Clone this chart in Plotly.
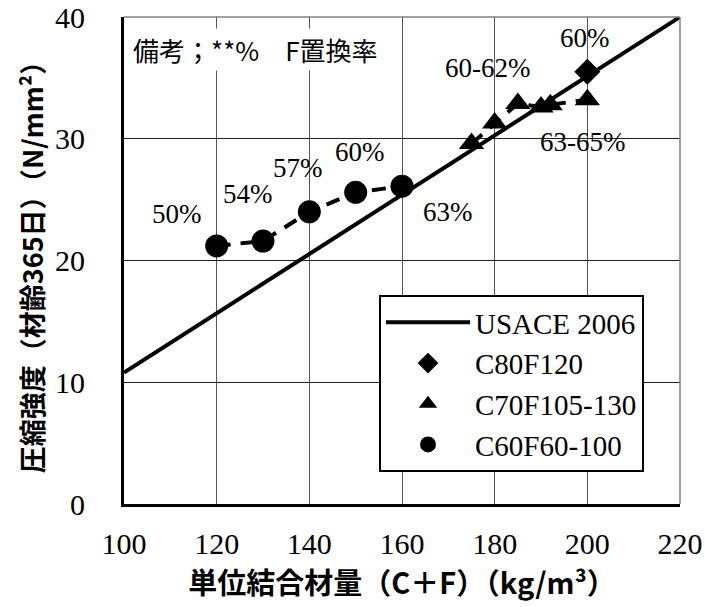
import plotly.graph_objects as go

# ---- data ----
usace_x = [100, 220]
usace_y = [10.8, 40.0]

c80_x = [200]
c80_y = [35.5]

c70_x = [175, 180, 185, 190, 192, 200]
c70_y = [29.6, 31.3, 32.9, 32.6, 32.8, 33.2]

c60_x = [120, 130, 140, 150, 160]
c60_y = [21.2, 21.6, 24.0, 25.6, 26.1]

label_text = ["50%", "54%", "57%", "60%", "63%", "60-62%", "60%", "63-65%"]
label_x = [111.4, 126.8, 137.6, 150.9, 170.0, 178.5, 199.4, 199.0]
label_y = [23.8, 25.5, 27.6, 28.9, 24.0, 35.8, 38.3, 29.7]

x_ticks = [100, 120, 140, 160, 180, 200, 220]
y_ticks = [0, 10, 20, 30, 40]

note_text = "備考；**%　F置換率"
x_title = "単位結合材量（C＋F）（kg/m³）"
y_title = "圧縮強度（材齢365日）（N/mm²）"

SERIF = "Liberation Serif, Times New Roman, serif"
CJK = "Noto Sans CJK JP, sans-serif"
DASH = "14px,10px"

fig = go.Figure()

# dashed connecting lines (not in legend)
fig.add_trace(go.Scatter(
    x=c70_x, y=c70_y, mode="lines", showlegend=False, hoverinfo="skip",
    line=dict(color="black", width=4, dash=DASH),
))
fig.add_trace(go.Scatter(
    x=c60_x, y=c60_y, mode="lines", showlegend=False, hoverinfo="skip",
    line=dict(color="black", width=4, dash=DASH),
))

fig.add_trace(go.Scatter(
    x=usace_x, y=usace_y, mode="lines", name="USACE 2006",
    line=dict(color="black", width=4),
))
fig.add_trace(go.Scatter(
    x=c80_x, y=c80_y, mode="markers", name="C80F120",
    marker=dict(symbol="diamond", size=20, color="black"),
))
fig.add_trace(go.Scatter(
    x=c70_x, y=c70_y, mode="markers", name="C70F105-130",
    marker=dict(symbol="triangle-up", size=22, color="black"),
))
fig.add_trace(go.Scatter(
    x=c60_x, y=c60_y, mode="markers", name="C60F60-100",
    marker=dict(symbol="circle", size=23, color="black"),
))

for t, xx, yy in zip(label_text, label_x, label_y):
    fig.add_annotation(x=xx, y=yy, text=t, showarrow=False,
                       font=dict(family=SERIF, size=27, color="black"),
                       xanchor="center", yanchor="middle")

fig.add_annotation(xref="paper", yref="paper", x=0.011, y=0.933,
                   text=note_text, showarrow=False, xanchor="left", yanchor="middle",
                   bgcolor="white", borderpad=2,
                   font=dict(family=CJK, size=26, color="black"))

# top / right thin gray border
fig.add_shape(type="line", xref="paper", yref="paper", x0=0, x1=1, y0=1, y1=1,
              line=dict(color="#808080", width=1.5))
fig.add_shape(type="line", xref="paper", yref="paper", x0=1, x1=1, y0=0, y1=1,
              line=dict(color="#808080", width=1.5))

fig.update_layout(
    width=705, height=607,
    margin=dict(l=124, r=25, t=17, b=103, autoexpand=False),
    paper_bgcolor="white", plot_bgcolor="white",
    showlegend=True,
    legend=dict(
        x=(379 - 124) / 556, y=(504 - 295) / 487, xanchor="left", yanchor="top",
        bgcolor="white", bordercolor="black", borderwidth=2,
        font=dict(family=SERIF, size=29, color="black"),
        itemwidth=84, tracegroupgap=0,
    ),
    xaxis=dict(
        range=[100, 220], tickvals=x_ticks, ticks="", ticklabelstandoff=11,
        automargin=False, ticklabeloverflow="allow",
        showgrid=True, gridcolor="#555555", gridwidth=1,
        showline=True, linecolor="black", linewidth=3, zeroline=False,
        tickfont=dict(family=SERIF, size=30, color="black"),
        title=dict(text=x_title, font=dict(family=CJK, size=29, color="black", weight="bold"), standoff=6),
    ),
    yaxis=dict(
        range=[0, 40], tickvals=y_ticks, ticks="", ticklabelstandoff=30,
        automargin=False, ticklabeloverflow="allow",
        showgrid=True, gridcolor="#222222", gridwidth=1,
        showline=True, linecolor="black", linewidth=3, zeroline=False,
        tickfont=dict(family=SERIF, size=30, color="black"),
        title=dict(text=y_title, font=dict(family=CJK, size=27, color="black", weight="bold"), standoff=4),
    ),
)

# remove the default page margin so the 705x607 figure fills the window exactly
fig.write_html("out.html",
               config={"displayModeBar": False},
               post_script="document.body.style.margin='0';document.body.style.overflow='hidden';")
